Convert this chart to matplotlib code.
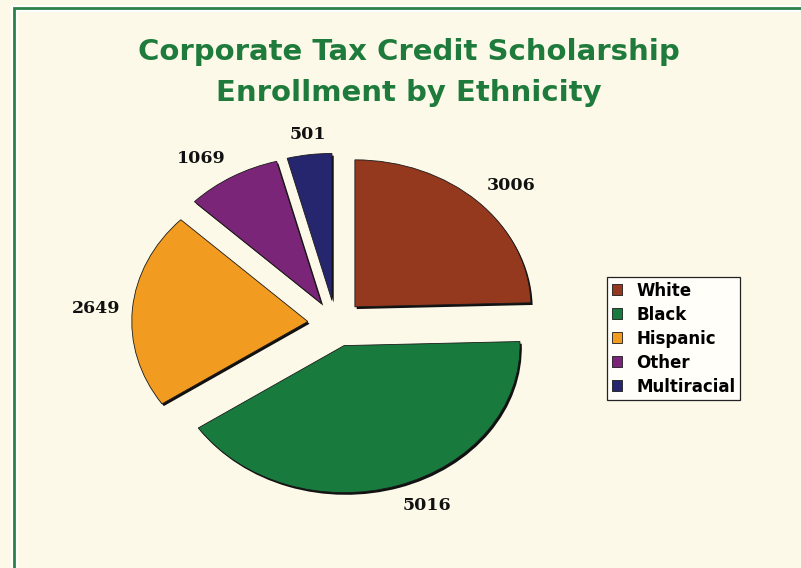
import numpy as np
import matplotlib
matplotlib.use('Agg')
import matplotlib.pyplot as plt
from matplotlib.lines import Line2D

categories = ['White', 'Black', 'Hispanic', 'Other', 'Multiracial']
values = [3006, 5016, 2649, 1069, 501]
colors = ['#94381E', '#197A3E', '#F29B21', '#7B2579', '#25266E']
title_lines = ['Corporate Tax Credit Scholarship', 'Enrollment by Ethnicity']

W, H = 801, 568
bg = '#FDF9E8'
fig = plt.figure(figsize=(W / 100, H / 100), dpi=100)
fig.patch.set_facecolor(bg)

# border (left and top visible)
bx, by = 13.5 / W, 1 - 7.5 / H
for lw, c in [(5, '#FFFFFF'), (2, '#2E8049')]:
    fig.add_artist(Line2D([bx, bx, 1.01], [-0.01, by, by], transform=fig.transFigure,
                          color=c, linewidth=lw, solid_joinstyle='miter'))

ax = fig.add_axes([0, 0, 1, 1])
ax.set_facecolor('none')
total = sum(values)
explode = [0.158] * len(values)
cx, cy = 335.5, 323.5
rx, ry = 176, 147

# shadow
ax.pie(values, explode=explode, colors=['#111111'] * len(values), startangle=90,
       counterclock=False, center=(1.8 / rx, -2.2 / ry), wedgeprops=dict(linewidth=0))
wedges, texts = ax.pie(
    values, explode=explode, colors=colors, startangle=90, counterclock=False,
    labels=categories, labeldistance=None,
    wedgeprops=dict(edgecolor='#1a1a1a', linewidth=0.6))
ax.set_aspect('auto')
ax.set_xlim(-cx / rx, (W - cx) / rx)
ax.set_ylim(-(H - cy) / ry, cy / ry)
ax.axis('off')

# value labels placed just outside each wedge's outer edge
gap = 8.5  # points
for w, v in zip(wedges, values):
    th = np.deg2rad((w.theta1 + w.theta2) / 2)
    c, s = np.cos(th), np.sin(th)
    ex = w.center[0] + w.r * c
    ey = w.center[1] + w.r * s
    dx, dy = rx * c, ry * s
    n = np.hypot(dx, dy)
    ha = 'left' if c > 0.3 else ('right' if c < -0.3 else 'center')
    va = 'bottom' if s > 0.3 else ('top' if s < -0.3 else 'center')
    ax.annotate(f'{v}', xy=(ex, ey), xytext=(gap * dx / n, gap * dy / n),
                textcoords='offset points', ha=ha, va=va,
                fontfamily='DejaVu Serif', fontweight='bold', fontsize=12.5, color='#111111')

leg = ax.legend(wedges, categories, loc='upper left', bbox_to_anchor=(607 / W, 1 - 277 / H),
                bbox_transform=fig.transFigure, frameon=True, fancybox=False,
                edgecolor='#222222', facecolor='#FFFEF8', framealpha=1,
                prop=dict(family='DejaVu Sans', weight='bold', size=12),
                handlelength=0.6, handleheight=0.6, handletextpad=0.9,
                labelspacing=0.36, borderpad=0.27, borderaxespad=0)
leg.get_frame().set_linewidth(0.9)

fig.text(408.5 / W, 1 - 52 / H, title_lines[0], ha='center', va='center',
         fontsize=21, color='#1E7B3C', fontfamily='DejaVu Sans', fontweight='bold')
fig.text(408.5 / W, 1 - 93 / H, title_lines[1], ha='center', va='center',
         fontsize=21, color='#1E7B3C', fontfamily='DejaVu Sans', fontweight='bold')

fig.savefig('out.png', dpi=100, facecolor=bg)
